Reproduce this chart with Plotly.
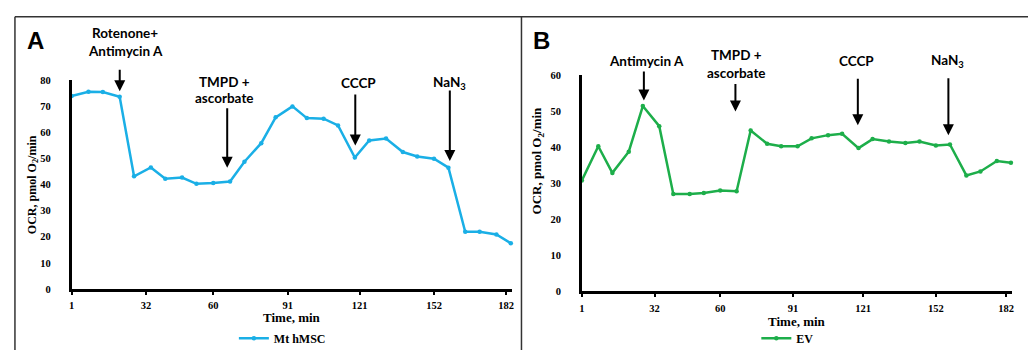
import plotly.graph_objects as go

W, H = 1030, 356

# ---- data ----
time_min = [1, 8, 14, 21, 27, 34, 40, 47, 53, 60, 67, 73, 80, 86, 93, 99, 106, 112,
            119, 125, 132, 139, 145, 152, 158, 165, 171, 178, 184]
mt_hmsc = [74.0, 75.6, 75.5, 73.7, 43.2, 46.6, 42.3, 42.7, 40.3, 40.6, 41.2, 48.8,
           55.9, 65.8, 70.0, 65.5, 65.3, 62.7, 50.4, 56.9, 57.7, 52.5, 50.8, 49.9,
           46.5, 21.9, 21.9, 20.9, 17.5]
ev = [30.8, 40.3, 32.9, 38.8, 51.5, 45.9, 27.0, 27.0, 27.3, 28.0, 27.8, 44.7,
      41.0, 40.3, 40.3, 42.5, 43.4, 43.8, 39.8, 42.3, 41.6, 41.2, 41.6, 40.5,
      40.8, 32.2, 33.3, 36.2, 35.7]
x_ticks = [1, 32, 60, 91, 121, 152, 182]
y_ticks_a = [0, 10, 20, 30, 40, 50, 60, 70, 80]
y_ticks_b = [0, 10, 20, 30, 40, 50, 60]


def px(x):
    return x / W


def py(y):
    return 1 - y / H


serif = "Liberation Serif"
sans = "Lato"

fig = go.Figure()
fig.add_trace(go.Scatter(x=time_min, y=mt_hmsc, name="Mt hMSC", mode="lines+markers",
                         line=dict(color="#1AAFE6", width=2.5),
                         marker=dict(size=4.5, color="#1AAFE6"),
                         xaxis="x", yaxis="y", legend="legend", cliponaxis=False))
fig.add_trace(go.Scatter(x=time_min, y=ev, name="EV", mode="lines+markers",
                         line=dict(color="#1DAE4A", width=2.5),
                         marker=dict(size=4.5, color="#1DAE4A"),
                         xaxis="x2", yaxis="y2", legend="legend2", cliponaxis=False))

axis_common = dict(showgrid=False, zeroline=False, showline=True, linecolor="black",
                   linewidth=2.5)
xfont = dict(family=serif, size=10.5, color="black", weight="bold")

fig.update_layout(
    width=W, height=H,
    margin=dict(l=0, r=0, t=0, b=0),
    paper_bgcolor="white", plot_bgcolor="white",
    xaxis=dict(domain=[px(69), px(511.5)], range=[1, 184.5], tickvals=x_ticks,
               ticks="outside", ticklen=3, tickwidth=2, tickcolor="black",
               tickfont=xfont, ticklabelstandoff=2, anchor="y", **axis_common),
    yaxis=dict(domain=[py(293), py(77.7)], range=[0, 80], tickvals=y_ticks_a,
               ticks="", tickfont=xfont, ticklabelstandoff=16, anchor="x", **axis_common),
    xaxis2=dict(domain=[px(581.7), px(1014)], range=[1, 184.5], tickvals=x_ticks,
                ticks="outside", ticklen=3, tickwidth=2, tickcolor="black",
                tickfont=xfont, ticklabelstandoff=2, anchor="y2", **axis_common),
    yaxis2=dict(domain=[py(295.3), py(72.7)], range=[0, 60], tickvals=y_ticks_b,
                ticks="", tickfont=xfont, ticklabelstandoff=16, anchor="x2", **axis_common),
    legend=dict(x=px(232), y=py(344), xanchor="left", yanchor="middle",
                font=dict(family=serif, size=12, color="black", weight="bold"),
                bgcolor="rgba(0,0,0,0)", itemwidth=30, tracegroupgap=0),
    legend2=dict(x=px(757), y=py(344), xanchor="left", yanchor="middle",
                 font=dict(family=serif, size=12, color="black", weight="bold"),
                 bgcolor="rgba(0,0,0,0)", itemwidth=30, tracegroupgap=0),
    showlegend=True,
)

ann = []


def text(x, y, t, size=13.5, family=sans, bold=True):
    ann.append(dict(x=px(x), y=py(y), xref="paper", yref="paper", text=t, showarrow=False,
                    xanchor="center", yanchor="middle",
                    font=dict(family=family, size=size, color="black",
                              weight="bold" if bold else "normal")))


def arrow(x, y0, y1):
    ann.append(dict(x=px(x), y=py(y1), xref="paper", yref="paper", text="",
                    showarrow=True, ax=0, ay=-(y1 - y0), axref="pixel", ayref="pixel",
                    arrowhead=2, arrowsize=1.1, arrowwidth=2, arrowcolor="black"))


# panel letters
text(33, 37, "A", size=24, family="Liberation Sans")
text(541, 37, "B", size=24, family="Liberation Sans")

# panel A labels
text(123, 29, "Rotenone+")
text(123, 47.5, "Antimycin A")
arrow(117.3, 66, 89)
text(222.5, 79, "TMPD +")
text(222.5, 96, "ascorbate")
arrow(225.3, 107, 168)
text(357.5, 80.5, "CCCP")
arrow(354, 92.5, 145)
text(449, 80.5, "NaN<sub>3</sub>")
arrow(449, 89, 161)

# panel B labels
text(647, 58.3, "Antimycin A")
arrow(644, 68, 98.5)
text(737, 51.7, "TMPD +")
text(737, 70, "ascorbate")
arrow(736, 81, 110)
text(857.5, 57.3, "CCCP")
arrow(859, 76, 124)
text(949, 58, "NaN<sub>3</sub>")
arrow(950, 76, 134.5)

# axis titles
text(290, 322.5, "Time, min", size=13, family=serif)
text(798, 326.5, "Time, min", size=13, family=serif)
ann.append(dict(x=px(30), y=py(185), xref="paper", yref="paper",
                text="OCR, pmol O<sub>2</sub>/min", showarrow=False, textangle=-90,
                xanchor="center", yanchor="middle",
                font=dict(family=serif, size=12, color="black", weight="bold")))
ann.append(dict(x=px(537), y=py(160), xref="paper", yref="paper",
                text="OCR, pmol O<sub>2</sub>/min", showarrow=False, textangle=-90,
                xanchor="center", yanchor="middle",
                font=dict(family=serif, size=13, color="black", weight="bold")))

fig.update_layout(annotations=ann)

# frame lines
border = dict(color="#333333", width=1.5)
fig.add_shape(type="line", xref="paper", yref="paper", x0=px(12), x1=1, y0=py(12), y1=py(12), line=border)
fig.add_shape(type="line", xref="paper", yref="paper", x0=px(12), x1=px(12), y0=py(12), y1=0, line=border)
fig.add_shape(type="line", xref="paper", yref="paper", x0=px(521), x1=px(521), y0=py(12), y1=0, line=border)

fig.write_html("out.html")
